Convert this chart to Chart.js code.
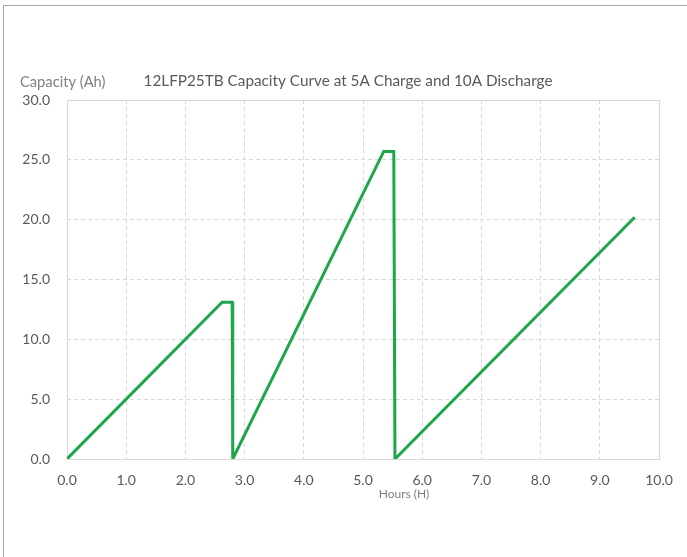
<!DOCTYPE html>
<html>
<head>
<meta charset="utf-8">
<script src="https://cdn.jsdelivr.net/npm/chart.js@4/dist/chart.umd.min.js"></script>
<style>
html,body{margin:0;padding:0;background:#fff;}
#wrap{position:relative;width:687px;height:557px;}
canvas{display:block;}
</style>
</head>
<body>
<div id="wrap"><canvas id="c" width="687" height="557"></canvas></div>
<script>
// Data
const hours    = [0, 2.62, 2.79, 2.80, 5.35, 5.52, 5.54, 9.59];
const capacity = [0, 13.1, 13.1, 0,    25.7, 25.7, 0,    20.2];
const xTickValues = [0, 1, 2, 3, 4, 5, 6, 7, 8, 9, 10];
const yTickValues = [0, 5, 10, 15, 20, 25, 30];
const titleText = "12LFP25TB Capacity Curve at 5A Charge and 10A Discharge";
const yAxisText = "Capacity (Ah)";
const xAxisText = "Hours (H)";

const FONT = "Lato, 'Open Sans', sans-serif";

const points = hours.map((h, i) => ({x: h, y: capacity[i]}));

const decor = {
  id: 'decor',
  beforeDraw(chart) {
    const ctx = chart.ctx;
    ctx.save();
    ctx.fillStyle = '#fff';
    ctx.fillRect(0, 0, chart.width, chart.height);
    // outer picture border
    ctx.strokeStyle = '#a6a6a6';
    ctx.lineWidth = 1;
    ctx.beginPath();
    ctx.moveTo(3.5, chart.height);
    ctx.lineTo(3.5, 5.5);
    ctx.lineTo(chart.width, 5.5);
    ctx.stroke();
    ctx.restore();
  },
  beforeDatasetsDraw(chart) {
    const ctx = chart.ctx;
    const a = chart.chartArea;
    ctx.save();
    ctx.strokeStyle = '#d9d9d9';
    ctx.lineWidth = 1;
    ctx.setLineDash([]);
    ctx.strokeRect(Math.round(a.left) + 0.5, Math.round(a.top) + 0.5,
                   Math.round(a.right - a.left), Math.round(a.bottom - a.top));
    ctx.restore();
  },
  afterDraw(chart) {
    const ctx = chart.ctx;
    ctx.save();
    ctx.textBaseline = 'middle';
    ctx.fillStyle = '#595959';
    ctx.font = "15.3px " + FONT;
    ctx.textAlign = 'center';
    ctx.fillText(titleText, 348, 81);
    ctx.fillStyle = '#7f7f7f';
    ctx.font = "14.7px " + FONT;
    ctx.textAlign = 'left';
    ctx.fillText(yAxisText, 20, 82);
    ctx.font = "12px " + FONT;
    ctx.textAlign = 'center';
    ctx.fillText(xAxisText, 404, 494);
    ctx.restore();
  }
};

new Chart(document.getElementById('c'), {
  type: 'scatter',
  data: {
    datasets: [{
      data: points,
      showLine: true,
      borderColor: '#1ea64b',
      backgroundColor: '#1ea64b',
      borderWidth: 3,
      pointRadius: 0,
      tension: 0,
      borderJoinStyle: 'miter'
    }]
  },
  options: {
    responsive: false,
    animation: false,
    devicePixelRatio: 1,
    layout: { padding: { left: 0, right: 28, top: 100, bottom: 0 } },
    plugins: { legend: { display: false }, tooltip: { enabled: false }, title: { display: false } },
    scales: {
      x: {
        type: 'linear',
        min: 0, max: 10,
        afterBuildTicks(s) { s.ticks = xTickValues.map(v => ({value: v})); },
        afterFit(s) { s.height = 98; },
        ticks: {
          padding: 13,
          color: '#595959',
          font: { family: FONT, size: 14 },
          maxRotation: 0,
          callback: v => Number(v).toFixed(1)
        },
        grid: { color: '#d9d9d9', lineWidth: 1, drawTicks: false },
        border: { display: false, dash: [4, 3] }
      },
      y: {
        type: 'linear',
        min: 0, max: 30,
        afterBuildTicks(s) { s.ticks = yTickValues.map(v => ({value: v})); },
        afterFit(s) { s.width = 67; },
        ticks: {
          padding: 17,
          color: '#595959',
          font: { family: FONT, size: 14 },
          callback: v => Number(v).toFixed(1)
        },
        grid: { color: '#d9d9d9', lineWidth: 1, drawTicks: false },
        border: { display: false, dash: [4, 3] }
      }
    }
  },
  plugins: [decor]
});
</script>
</body>
</html>
